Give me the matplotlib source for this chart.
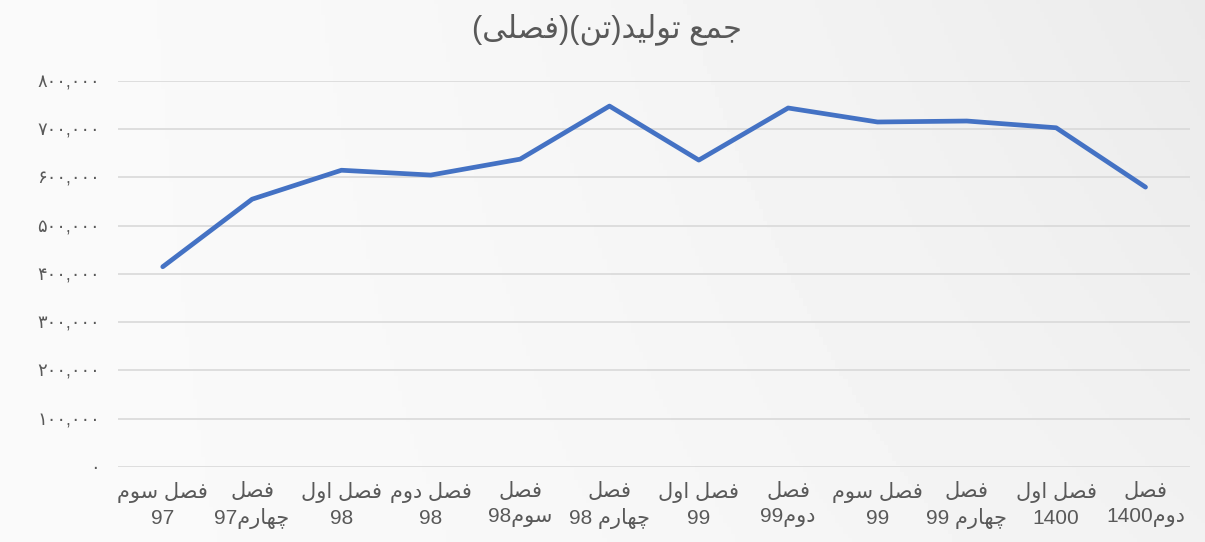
import numpy as np
import matplotlib
matplotlib.use('Agg')
import matplotlib.pyplot as plt

# داده‌های تولید فصلی (تن)
quarters = ['فصل سوم\n97', 'فصل\nچهارم97', 'فصل اول\n98', 'فصل دوم\n98',
            'فصل\nسوم98', 'فصل\nچهارم 98', 'فصل اول\n99', 'فصل\nدوم99',
            'فصل سوم\n99', 'فصل\nچهارم 99', 'فصل اول\n1400', 'فصل\nدوم1400']
production = [415000, 555000, 615000, 605000, 638000, 748000,
              636000, 744000, 715000, 717000, 703000, 580000]
y_ticks = [0, 100000, 200000, 300000, 400000, 500000, 600000, 700000, 800000]
title = 'جمع تولید(تن)(فصلی)'

# شکل‌های حروف: (تنها، پایانی، آغازی، میانی)
FORMS = {
    'ا': ('\uFE8D', '\uFE8E'),
    'د': ('\uFEA9', '\uFEAA'),
    'ر': ('\uFEAD', '\uFEAE'),
    'و': ('\uFEED', '\uFEEE'),
    'ت': ('\uFE95', '\uFE96', '\uFE97', '\uFE98'),
    'ج': ('\uFE9D', '\uFE9E', '\uFE9F', '\uFEA0'),
    'چ': ('\uFB7A', '\uFB7B', '\uFB7C', '\uFB7D'),
    'س': ('\uFEB1', '\uFEB2', '\uFEB3', '\uFEB4'),
    'ص': ('\uFEB9', '\uFEBA', '\uFEBB', '\uFEBC'),
    'ع': ('\uFEC9', '\uFECA', '\uFECB', '\uFECC'),
    'ف': ('\uFED1', '\uFED2', '\uFED3', '\uFED4'),
    'ل': ('\uFEDD', '\uFEDE', '\uFEDF', '\uFEE0'),
    'م': ('\uFEE1', '\uFEE2', '\uFEE3', '\uFEE4'),
    'ن': ('\uFEE5', '\uFEE6', '\uFEE7', '\uFEE8'),
    'ه': ('\uFEE9', '\uFEEA', '\uFEEB', '\uFEEC'),
    'ی': ('\uFBFC', '\uFBFD', '\uFBFE', '\uFBFF'),
}
MIRROR = {'(': ')', ')': '('}
DIGITS = set('0123456789')


def shape(s):
    out = []
    for i, c in enumerate(s):
        if c not in FORMS:
            out.append(c)
            continue
        prev = s[i - 1] if i > 0 else ''
        nxt = s[i + 1] if i + 1 < len(s) else ''
        jp = prev in FORMS and len(FORMS[prev]) == 4
        jn = len(FORMS[c]) == 4 and nxt in FORMS
        f = FORMS[c]
        if jp and jn:
            out.append(f[3])
        elif jp:
            out.append(f[1])
        elif jn:
            out.append(f[2])
        else:
            out.append(f[0])
    return ''.join(out)


def rtl_line(s):
    s = shape(s)
    runs, cur, cur_dig = [], '', None
    for c in s:
        d = c in DIGITS
        if cur and d != cur_dig:
            runs.append((cur, cur_dig))
            cur = ''
        cur += c
        cur_dig = d
    if cur:
        runs.append((cur, cur_dig))
    vis = []
    for text, dig in reversed(runs):
        vis.append(text if dig else ''.join(MIRROR.get(c, c) for c in reversed(text)))
    return ''.join(vis)


def rtl(s):
    return '\n'.join(rtl_line(line) for line in s.split('\n'))


def fa_num(v):
    return f'{v:,}'.translate(str.maketrans('0123456789', '۰۱۲۳۴۵۶۷۸۹'))


plt.rcParams['font.family'] = ['Liberation Sans', 'DejaVu Sans']
text_color = '#595959'

fig = plt.figure(figsize=(12.05, 5.42), dpi=100)

# پس‌زمینه با شیب رنگ ملایم
bg = fig.add_axes([0, 0, 1, 1], zorder=-10)
gx, gy = np.meshgrid(np.linspace(0, 1, 300), np.linspace(0, 1, 140))
shade = 0.978 - 0.058 * (gx ** 1.8) * (0.55 + 0.45 * gy)
bg.imshow(shade, cmap='gray', vmin=0, vmax=1, aspect='auto', extent=[0, 1, 0, 1], origin='lower')
bg.axis('off')

ax = fig.add_axes([0.098, 0.1384, 0.8897, 0.7122])
ax.patch.set_alpha(0)
x = np.arange(len(quarters))
ax.plot(x, production, color='#4472C4', linewidth=3.4, solid_joinstyle='round', solid_capstyle='round', zorder=3)

ax.set_xlim(-0.5, len(quarters) - 0.5)
ax.set_ylim(0, 800000)
ax.set_yticks(y_ticks)
ax.set_yticklabels([fa_num(v) for v in y_ticks], fontsize=13, color=text_color)
ax.set_xticks(x)
ax.set_xticklabels([rtl(q) for q in quarters], fontsize=15, color=text_color, linespacing=1.4)
ax.tick_params(axis='both', length=0)
ax.tick_params(axis='y', pad=13)
ax.tick_params(axis='x', pad=11)
ax.grid(axis='y', color='#d9d9d9', linewidth=1.2)
for sp in ax.spines.values():
    sp.set_visible(False)

fig.text(0.504, 0.946, rtl(title), ha='center', va='center', fontsize=22, color=text_color)

plt.savefig('out.png', dpi=100)
